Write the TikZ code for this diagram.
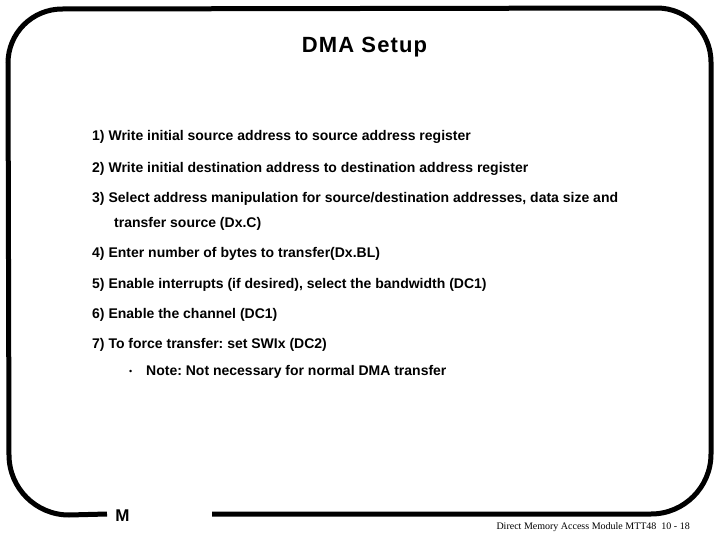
\documentclass[tikz,border=0pt]{standalone}
\usepackage{fontspec}
\setmainfont{Liberation Sans}
\newfontfamily\footfont{Liberation Serif}
\newfontfamily\titlefont[LetterSpace=5]{Liberation Sans Bold}
\def\framerad{54}
\frenchspacing

\begin{document}
\begin{tikzpicture}[x=1pt,y=-1pt]
\tikzstyle{item}=[anchor=base west,inner sep=0pt,font=\fontsize{14}{16}\selectfont\bfseries]
\tikzstyle{frameline}=[line width=5pt,black]

\useasboundingbox (0,0) rectangle (721,541);

% Draw the frame, open at the bottom for the letter
\draw[frameline] (212,514) -- (651,514)
  arc[start angle=90,end angle=0,radius=60] -- (711,62)
  arc[start angle=0,end angle=-90,radius=\framerad] -- (62,9)
  arc[start angle=-90,end angle=-180,radius=\framerad] -- (9,455)
  arc[start angle=180,end angle=90,radius=60] -- (107,514);

% Title and the letter in the gap
\node[anchor=base,inner sep=0pt,font=\fontsize{22}{24}\titlefont] (title) at (364.5,52.5) {DMA Setup};
\node[anchor=base,inner sep=0pt,font=\fontsize{17}{18}\selectfont\bfseries] (mark) at (122.5,521) {M};

% Draw the numbered lines
\foreach \name / \x / \y / \txt in {
  1/92/140/{1) Write initial source address to source address register},
  2/92/172/{2) Write initial destination address to destination address register},
  3/92/202/{3) Select address manipulation for source/destination addresses, data size and},
  3b/114/227/{transfer source (Dx.C)},
  4/92/257/{4) Enter number of bytes to transfer(Dx.BL)},
  5/92/288/{5) Enable interrupts (if desired), select the bandwidth (DC1)},
  6/92/318/{6) Enable the channel (DC1)},
  7/92/348/{7) To force transfer: set SWIx (DC2)},
  note/146/375/{Note: Not necessary for normal DMA transfer}}
\node[item] (L-\name) at (\x,\y) {\txt};

\node[item,font=\fontsize{9}{11}\selectfont] (bullet) at (129,374) {•};

% Footer
\node[anchor=base east,inner sep=0pt,font=\fontsize{10}{11}\footfont] (foot) at (690,529) {Direct Memory Access Module MTT48\ \ 10 - 18};
\end{tikzpicture}
\end{document}
